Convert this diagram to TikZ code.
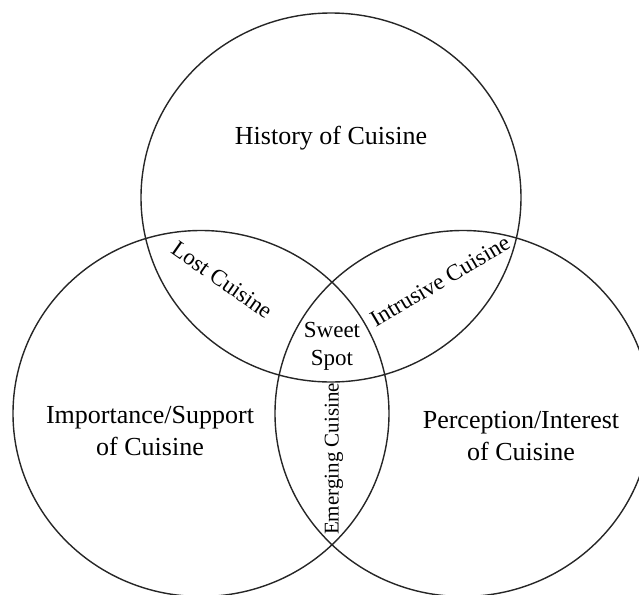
\documentclass[tikz,border=0pt]{standalone}
\usepackage{fontspec}
\setmainfont{Liberation Serif}
\begin{document}
\begin{tikzpicture}[x=0.5pt,y=-0.5pt,
    set/.style={draw=black!85,line width=0.7pt},
    big/.style={font=\fontsize{13}{16}\selectfont,align=center,inner sep=0pt},
    small/.style={font=\fontsize{11.5}{14}\selectfont,align=center,inner sep=0pt}]
  \useasboundingbox (0,0) rectangle (639,595);
  \draw[set] (331,197.5) ellipse [x radius=190,y radius=184.5];
  \draw[set] (201,413.5) ellipse [x radius=188,y radius=183];
  \draw[set] (463,413.5) ellipse [x radius=188,y radius=183];
  \node[big] (history) at (331,138) {History of Cuisine};
  \node[big] (importance) at (150,431) {Importance/Support\\of Cuisine};
  \node[big] (perception) at (521,436) {Perception/Interest\\of Cuisine};
  \node[small,rotate=-35] (lost) at (222,280) {Lost Cuisine};
  \node[small,rotate=30.5] (intrusive) at (440,281) {Intrusive Cuisine};
  \node[small] (sweet) at (332,346) {Sweet\\Spot};
  \node[small,font=\fontsize{10.5}{13}\selectfont,rotate=90] (emerging) at (334,459) {Emerging Cuisine};
\end{tikzpicture}
\end{document}
